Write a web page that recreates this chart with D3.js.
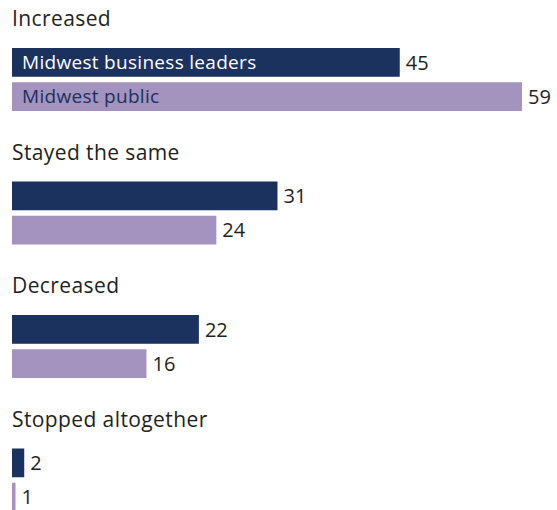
<!DOCTYPE html>
<html>
<head>
<meta charset="utf-8">
<script src="https://cdn.jsdelivr.net/npm/d3@7"></script>
<style>
  html, body { margin: 0; padding: 0; background: #ffffff; }
  svg { display: block; }
  text { font-family: "Open Sans", "Noto Sans", sans-serif; }
</style>
</head>
<body>
<div id="chart"></div>
<script>
// Answer categories, in display order
const categories = ["Increased", "Stayed the same", "Decreased", "Stopped altogether"];
// Series names
const seriesNames = ["Midwest business leaders", "Midwest public"];
// Percentages per series, aligned with categories
const businessLeaders = [45, 31, 22, 2];
const publicValues = [59, 24, 16, 1];

const width = 557, height = 510;
const left = 12;
const colors = ["#1b315e", "#a492bf"];
const labelColors = ["#ffffff", "#1b315e"];

const svg = d3.select("#chart").append("svg")
  .attr("width", width)
  .attr("height", height);

// Horizontal value scale
const x = d3.scaleLinear().domain([0.6, 59]).range([0, 510]).clamp(true);

// Vertical layout: one band per category
const groupY = d3.scalePoint().domain(categories).range([26, 426.5]);
const barY = d3.scaleBand().domain(seriesNames).range([22, 85]).paddingInner(0.16).paddingOuter(0);

const series = [businessLeaders, publicValues];

const groups = svg.selectAll("g.group")
  .data(categories)
  .join("g")
  .attr("class", "group")
  .attr("transform", d => `translate(${left},${groupY(d)})`);

groups.append("text")
  .attr("x", 0)
  .attr("y", 0)
  .attr("font-size", 21)
  .attr("letter-spacing", 0.4)
  .attr("fill", "#231f20")
  .text(d => d);

groups.each(function(cat, ci) {
  const g = d3.select(this);
  seriesNames.forEach((name, si) => {
    const v = series[si][ci];
    const y0 = barY(name);
    const w = Math.max(3.5, x(v));
    g.append("rect")
      .attr("x", 0)
      .attr("y", y0)
      .attr("width", w)
      .attr("height", barY.bandwidth())
      .attr("fill", colors[si]);
    g.append("text")
      .attr("x", w + 6)
      .attr("y", y0 + barY.bandwidth() / 2)
      .attr("dy", "0.36em")
      .attr("font-size", 20)
      .attr("fill", "#231f20")
      .text(v);
    if (ci === 0) {
      g.append("text")
        .attr("x", 10)
        .attr("y", y0 + barY.bandwidth() / 2)
        .attr("dy", "0.36em")
        .attr("font-size", 19)
        .attr("letter-spacing", 0.3)
        .attr("fill", labelColors[si])
        .text(name);
    }
  });
});
</script>
</body>
</html>
